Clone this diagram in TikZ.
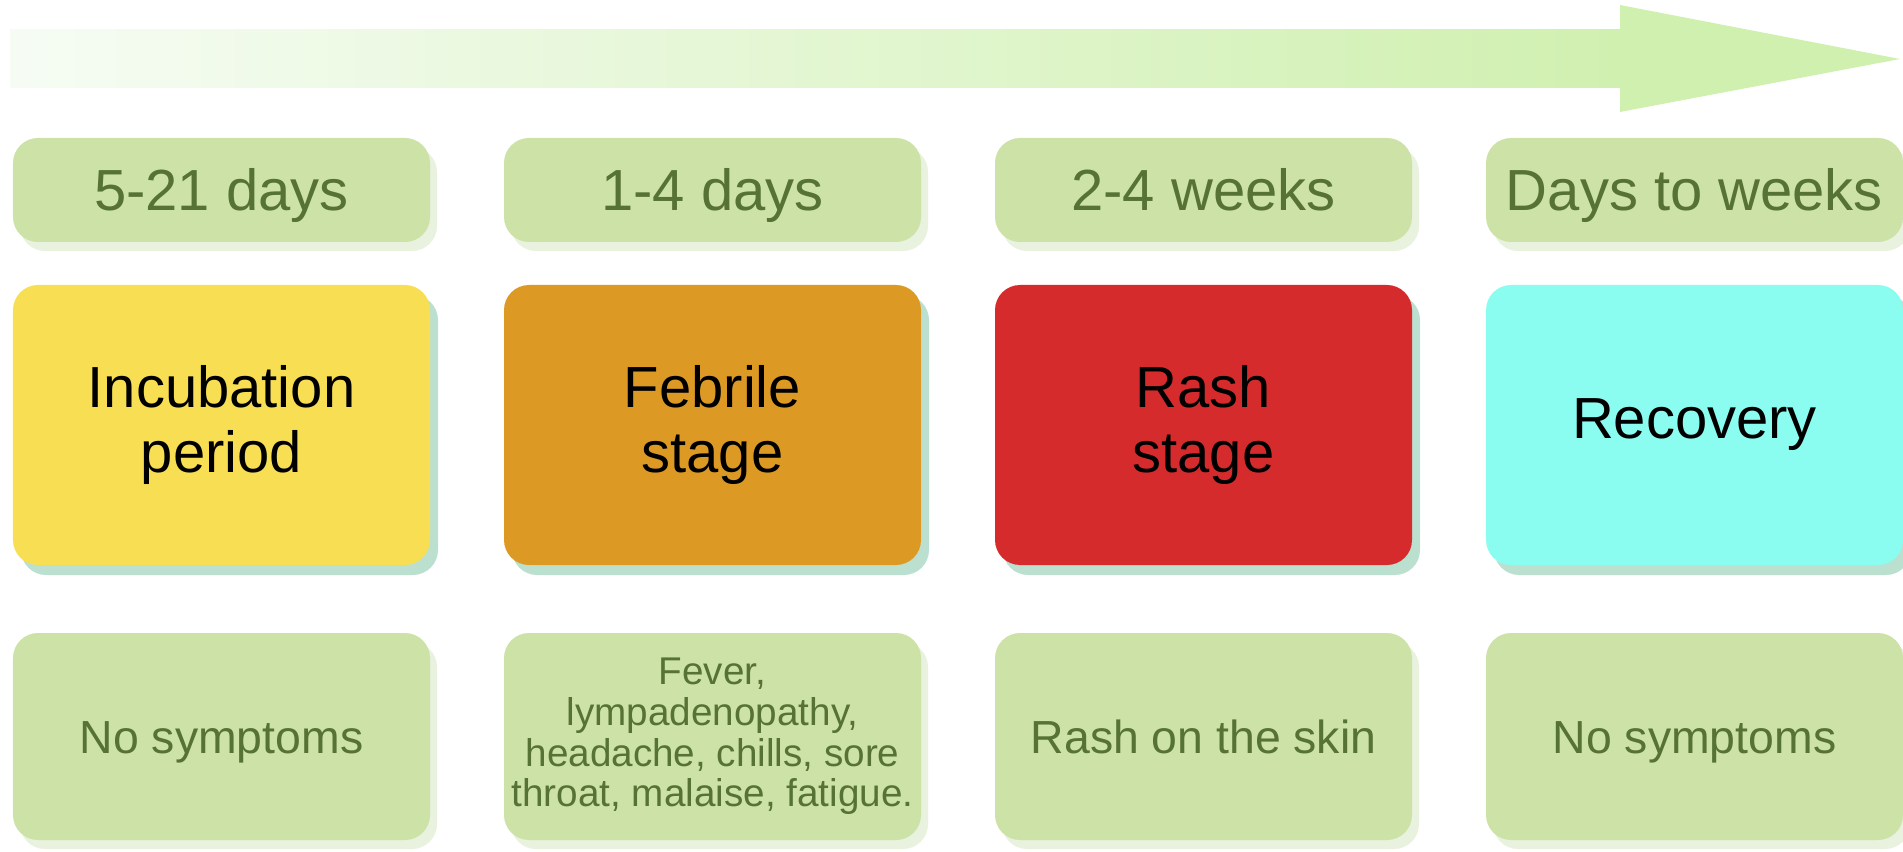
\documentclass[tikz,border=0pt]{standalone}
\usepackage{fontspec}
\setmainfont{Liberation Sans}
\usetikzlibrary{positioning, shadows}

\definecolor{leafgreen}{RGB}{205,226,166}
\definecolor{mossgreen}{RGB}{86,114,52}
\definecolor{paleshade}{RGB}{232,242,222}
\definecolor{tealshade}{RGB}{188,224,208}
\definecolor{arrowpale}{RGB}{246,252,244}
\definecolor{arrowgreen}{RGB}{208,240,176}
\definecolor{incyellow}{RGB}{247,222,82}
\definecolor{feborange}{RGB}{220,154,36}
\definecolor{rashred}{RGB}{214,43,45}
\definecolor{recocyan}{RGB}{138,252,240}

\begin{document}
\begin{tikzpicture}[
    card/.style={rounded corners=0.25cm, minimum width=4.17cm, align=center, inner sep=0pt},
    period/.style={card, fill=leafgreen, minimum height=1.04cm, text=mossgreen,
        font=\fontsize{16.5}{19}\selectfont, text height=11.8pt, text depth=0pt,
        drop shadow={shadow xshift=0.07cm, shadow yshift=-0.09cm, fill=paleshade, opacity=1}},
    stage/.style={card, minimum height=2.80cm, font=\fontsize{16.5}{18.5}\selectfont,
        drop shadow={shadow xshift=0.08cm, shadow yshift=-0.1cm, fill=tealshade, opacity=1}},
    symptom/.style={card, fill=leafgreen, minimum height=2.07cm, text=mossgreen,
        font=\fontsize{13.2}{15}\selectfont,
        drop shadow={shadow xshift=0.07cm, shadow yshift=-0.09cm, fill=paleshade, opacity=1}},
    oneline/.style={text height=9.5pt, text depth=0pt}
]
    \useasboundingbox (0,0) rectangle (19.03,-8.52);

    % time arrow
    \fill[left color=arrowpale, right color=arrowgreen] (0.1,-0.3) rectangle (16.2,-0.88);
    \fill[arrowgreen] (16.2,-0.05) -- (19.0,-0.59) -- (16.2,-1.12) -- cycle;

    % incubation
    \begin{scope}[shift={(2.215,0)}]
        \node[period] (per1) at (0,-1.90) {5-21 days};
        \node[stage, fill=incyellow] (stg1) at (0,-4.25) {Incubation\\period};
        \node[symptom, oneline] (sym1) at (0,-7.365) {No symptoms};
    \end{scope}

    % febrile
    \begin{scope}[shift={(7.125,0)}]
        \node[period] (per2) at (0,-1.90) {1-4 days};
        \node[stage, fill=feborange] (stg2) at (0,-4.25) {Febrile\\stage};
        \node[symptom, font=\fontsize{11}{11.6}\selectfont] (sym2) at (0,-7.365)
            {Fever,\\lympadenopathy,\\headache, chills, sore\\throat, malaise, fatigue.};
    \end{scope}

    % rash
    \begin{scope}[shift={(12.035,0)}]
        \node[period] (per3) at (0,-1.90) {2-4 weeks};
        \node[stage, fill=rashred] (stg3) at (0,-4.25) {Rash\\stage};
        \node[symptom, oneline] (sym3) at (0,-7.365) {Rash on the skin};
    \end{scope}

    % recovery
    \begin{scope}[shift={(16.945,0)}]
        \node[period] (per4) at (0,-1.90) {Days to weeks};
        \node[stage, fill=recocyan] (stg4) at (0,-4.25) {Recovery};
        \node[symptom, oneline] (sym4) at (0,-7.365) {No symptoms};
    \end{scope}
\end{tikzpicture}
\end{document}
